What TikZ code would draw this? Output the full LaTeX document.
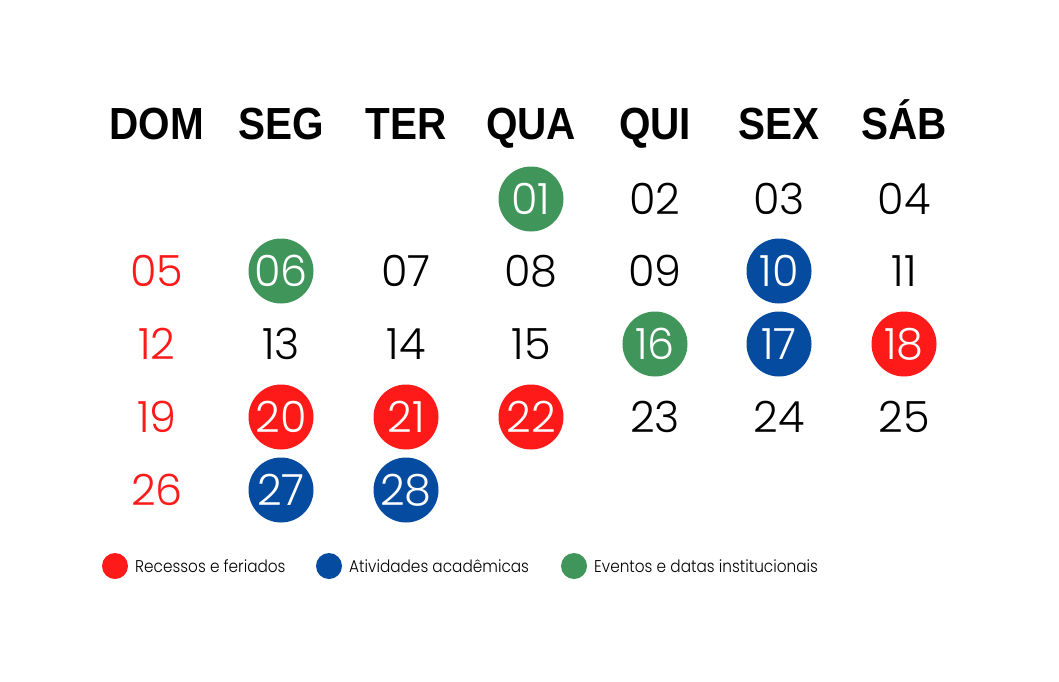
\documentclass[tikz,border=0pt]{standalone}
\usepackage{fontspec}
\setmainfont{Liberation Sans}
\newfontfamily\headfont{Liberation Sans}[FakeStretch=0.9]
\newfontfamily\numfont{Poppins}[UprightFont=* Light]
\newfontfamily\legfont{Poppins}[UprightFont=* Light, FakeStretch=0.9]
\definecolor{cred}{RGB}{255,26,26}
\definecolor{cblue}{RGB}{5,76,160}
\definecolor{cgreen}{RGB}{64,150,90}
\tikzset{
  head/.style={font=\headfont\bfseries\fontsize{45}{45}\selectfont, anchor=base},
  day/.style={font=\numfont\fontsize{43}{43}\selectfont, text=black, inner sep=0pt},
  sun/.style={day, text=cred},
  dot/.style={circle, minimum size=65pt, inner sep=0pt, fill=#1, text=white, font=\numfont\fontsize{43}{43}\selectfont},
  ldot/.style={circle, minimum size=26pt, inner sep=0pt, fill=#1},
  ltext/.style={font=\legfont\fontsize{17}{17}\selectfont, anchor=west, inner sep=0pt}
}
\begin{document}
\begin{tikzpicture}[x=1pt,y=-1pt]
\useasboundingbox (0,0) rectangle (1059,681);
% headers
\foreach \n/\t/\x in {h1/DOM/157,h2/SEG/281,h3/TER/406,h4/QUA/531,h5/QUI/655,h6/SEX/779,h7/SÁB/904}
  \node[head] (\n) at (\x,139) {\t};
% row 1
\node[dot=cgreen] (d01) at (531,199) {01};
\node[day] (d02) at (655,199) {02};
\node[day] (d03) at (779,199) {03};
\node[day] (d04) at (904,199) {04};
% row 2
\node[sun] (d05) at (157,271) {05};
\node[dot=cgreen] (d06) at (281,271) {06};
\node[day] (d07) at (406,271) {07};
\node[day] (d08) at (531,271) {08};
\node[day] (d09) at (655,271) {09};
\node[dot=cblue] (d10) at (779,271) {10};
\node[day] (d11) at (904,271) {11};
% row 3
\node[sun] (d12) at (157,344) {12};
\node[day] (d13) at (281,344) {13};
\node[day] (d14) at (406,344) {14};
\node[day] (d15) at (531,344) {15};
\node[dot=cgreen] (d16) at (655,344) {16};
\node[dot=cblue] (d17) at (779,344) {17};
\node[dot=cred] (d18) at (904,344) {18};
% row 4
\node[sun] (d19) at (157,417) {19};
\node[dot=cred] (d20) at (281,417) {20};
\node[dot=cred] (d21) at (406,417) {21};
\node[dot=cred] (d22) at (531,417) {22};
\node[day] (d23) at (655,417) {23};
\node[day] (d24) at (779,417) {24};
\node[day] (d25) at (904,417) {25};
% row 5
\node[sun] (d26) at (157,490) {26};
\node[dot=cblue] (d27) at (281,490) {27};
\node[dot=cblue] (d28) at (406,490) {28};
% legend
\node[ldot=cred] (l1) at (115,566) {};
\node[ltext] (t1) at (135,566) {Recessos e feriados};
\node[ldot=cblue] (l2) at (329,566) {};
\node[ltext] (t2) at (349,566) {Atividades acadêmicas};
\node[ldot=cgreen] (l3) at (574,566) {};
\node[ltext] (t3) at (594,566) {Eventos e datas institucionais};
\end{tikzpicture}
\end{document}
